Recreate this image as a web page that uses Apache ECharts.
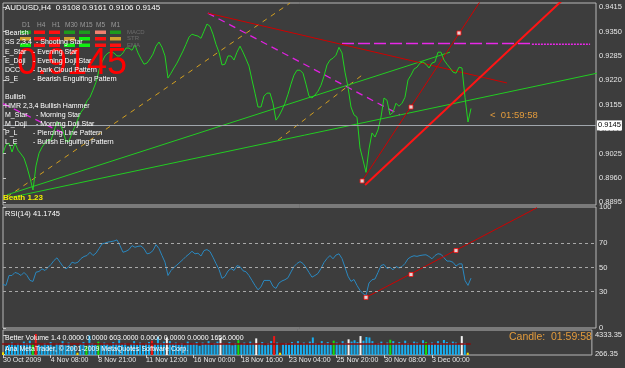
<!DOCTYPE html>
<html>
<head>
<meta charset="utf-8">
<script src="https://cdn.jsdelivr.net/npm/echarts@6/dist/echarts.min.js"></script>
<style>
html, body { margin: 0; padding: 0; background: #3d3d3d; }
#chart { width: 625px; height: 368px; }
</style>
</head>
<body>
<div id="chart"></div>
<script>
// AUDUSD H4 close prices (one per bar)
const closePrices = [
  0.9026,0.9048,0.9053,0.9029,0.9053,0.9034,0.9024,0.9013,0.8989,0.8960,
  0.8928,0.8992,0.9026,0.9042,0.9053,0.9061,0.9061,0.9085,0.9109,0.9104,
  0.9085,0.9058,0.9058,0.9080,0.9098,0.9117,0.9135,0.9146,0.9165,0.9175,
  0.9194,0.9215,0.9247,0.9269,0.9285,0.9293,0.9295,0.9293,0.9285,0.9285,
  0.9293,0.9306,0.9306,0.9300,0.9314,0.9293,0.9277,0.9263,0.9266,0.9277,
  0.9290,0.9311,0.9322,0.9308,0.9285,0.9226,0.9239,0.9253,0.9266,0.9282,
  0.9298,0.9316,0.9335,0.9343,0.9340,0.9338,0.9332,0.9351,0.9370,0.9364,
  0.9343,0.9316,0.9295,0.9261,0.9263,0.9285,0.9285,0.9274,0.9295,0.9311,
  0.9295,0.9277,0.9258,0.9221,0.9186,0.9149,0.9149,0.9178,0.9186,0.9186,
  0.9159,0.9114,0.9125,0.9141,0.9159,0.9183,0.9210,0.9234,0.9247,0.9247,
  0.9239,0.9210,0.9178,0.9173,0.9181,0.9191,0.9207,0.9231,0.9261,0.9274,
  0.9279,0.9287,0.9308,0.9293,0.9242,0.9202,0.9149,0.9128,0.9122,0.9040,
  0.9008,0.8975,0.9037,0.9080,0.9069,0.9088,0.9122,0.9173,0.9167,0.9128,
  0.9135,0.9159,0.9151,0.9159,0.9175,0.9221,0.9234,0.9250,0.9255,0.9266,
  0.9269,0.9263,0.9253,0.9266,0.9269,0.9295,0.9295,0.9274,0.9263,0.9253,
  0.9242,0.9239,0.9255,0.9253,0.9175,0.9109,0.9145
];

// RSI(14)
const rsiValues = [
  36.0,35.2,43.4,43.4,45.9,45.1,43.4,45.9,43.4,39.3,
  38.5,46.1,46.7,48.9,47.5,50.0,52.5,55.8,58.0,54.4,
  50.8,48.9,50.8,54.4,53.5,54.4,57.4,59.1,59.9,62.6,
  59.9,61.9,65.6,69.5,70.1,71.0,71.4,71.9,72.8,68.1,
  62.6,63.4,64.8,68.1,66.7,67.5,67.8,65.6,61.3,61.9,
  64.0,68.9,65.6,59.9,54.4,43.4,47.5,50.0,52.1,54.4,
  56.6,59.1,61.1,63.4,61.3,61.8,59.5,64.0,64.8,63.2,
  58.5,53.3,48.4,41.0,42.6,47.1,49.2,47.5,51.6,50.8,
  47.3,46.5,43.4,39.3,35.2,31.6,34.0,39.3,39.3,39.3,
  34.4,32.7,37.2,38.9,39.9,41.5,46.3,50.8,53.3,54.9,
  53.3,50.0,45.9,42.0,43.4,45.1,49.2,54.1,57.4,59.9,
  57.2,60.3,61.3,57.4,50.2,42.8,38.5,40.1,35.2,31.1,
  28.4,27.0,37.2,39.9,40.5,45.9,51.6,52.5,49.2,50.2,
  48.1,50.8,49.6,50.8,53.3,57.2,58.8,59.7,59.2,59.9,
  60.3,60.5,59.1,57.2,59.9,61.4,60.9,58.1,55.3,55.3,
  54.3,51.2,53.0,53.0,39.3,35.2,41.2
];

// Better Volume: tick volume and bar kind (b=normal, r=climax up, w=churn, g=climax churn, y=low)
const volumes = [
  600,1900,2300,2700,2100,2500,2200,2900,2600,3100,
  2300,4550,2400,2000,2600,2200,2800,1900,2500,2300,
  3000,2100,2700,1800,2200,500,2400,2800,2000,4200,
  2600,2200,2900,2100,2700,2400,2000,2800,2500,3200,
  2300,2600,1900,2400,3000,2200,2700,2100,2500,2800,
  3100,2400,3900,2600,2900,3800,3000,2400,2700,2200,
  2600,2100,2900,2300,2500,2800,2000,2700,2400,3000,
  2200,2600,2900,3700,2500,2300,2800,2100,2600,3200,
  2400,2700,2200,2900,2500,3600,2400,2800,2100,2600,
  3000,4100,2700,500,2300,2600,2200,2800,2500,3000,
  2300,2700,2400,2900,3800,2600,2300,3000,2500,2800,
  2200,3100,2700,2400,3000,2600,3400,2900,3200,2800,
  4100,3100,3900,3800,3000,2400,2600,2900,2300,2700,
  3300,3000,2500,2800,2400,3100,2600,2300,2900,2700,
  2400,3200,2800,2500,2700,2400,3000,2600,3250,2800,
  2500,2900,2700,2300,4100,2600,500
];
const volumeKinds = (
  'ybbbbbbbbb' + 'grbbbbbbbb' + 'bbbbbybbgb' + 'bbgbbbbbbb' + 'bbbbbbbbbb' +
  'rbbbbwbbbb' + 'bbbbbbbbbb' + 'bbbwbbbbbg' + 'bbbbbwbbbb' + 'brbybbbbbb' +
  'bbbbbbbbbb' + 'bgbbbbwbbb' + 'wbbbbbbbbb' + 'gbbbbbbbbb' + 'bbgbbbbbbb' +
  'bbbbwby'
).split('');
const volumeAverage = 2380;

// axis labels
const timeLabels = ['30 Oct 2009', '4 Nov 08:00', '8 Nov 21:00', '11 Nov 12:00', '16 Nov 00:00',
  '18 Nov 16:00', '23 Nov 04:00', '25 Nov 20:00', '30 Nov 08:00', '3 Dec 00:00'];
const labelStep = 16; // bars between time labels
const priceTicks = [0.8895, 0.8960, 0.9025, 0.9090, 0.9155, 0.9220, 0.9285, 0.9350, 0.9415];
const rsiTicks = [0, 30, 50, 70, 100];
const volumeTicks = [266.35, 4333.35];

// drawn objects: [bar index, value]
const goldLineA = [[1.3, 0.8909], [95.7, 0.9426]];
const goldLineB = [[91.7, 0.9061], [119.7, 0.9234]];
const magentaLineLeft = [[0, 0.9158], [20.7, 0.9077]];
const magentaLineMain = [[68.3, 0.9399], [132.3, 0.9128]];
const magentaLevel = [[113, 0.9318], [175.7, 0.9318]];
const magentaLevelEnd = [[176.3, 0.9316], [195.7, 0.9316]];
const redLineFalling = [[68.3, 0.9399], [168, 0.9213]];
const redLineSteep = [[119.7, 0.8952], [162, 0.9466]];
const redLineThick = [[120.7, 0.8941], [190, 0.9460]];
const greenLineUpper = [[1.3, 0.8915], [149, 0.9295]];
const greenLineLower = [[3, 0.8909], [198, 0.9239]];
const priceMarkers = [[119.7, 0.8952], [136, 0.9149], [152, 0.9346]];
const rsiRedLine = [[121, 25.3], [178, 99.4]];
const rsiMarkers = [[121, 25.3], [136, 44.2], [151, 64.0]];

const lastClose = closePrices[closePrices.length - 1];
const volColors = { b: '#18aef0', r: '#f01818', w: '#f4f4f4', g: '#10e010', y: '#f0e000' };
const FONT = 'Liberation Sans';
const AXIS_TEXT = '#e6e6e6';
const X_MAX = 197.67;

function xAxisHidden(idx) {
  return { type: 'value', gridIndex: idx, min: 0, max: X_MAX, show: false };
}
function yAxisRight(idx, min, max, ticks, digits) {
  return {
    type: 'value', gridIndex: idx, position: 'right', min: min, max: max,
    axisLine: { show: false }, splitLine: { show: false },
    axisTick: { show: true, customValues: ticks, length: 3, lineStyle: { color: '#c8c8c8' } },
    axisLabel: {
      customValues: ticks, color: AXIS_TEXT, fontSize: 7.5, fontFamily: FONT, margin: 3,
      formatter: v => v.toFixed(digits)
    }
  };
}
function segment(data, color, width, type, xi, yi) {
  return {
    type: 'line', data: data, xAxisIndex: xi || 0, yAxisIndex: yi || 0,
    showSymbol: false, silent: true, z: 3,
    lineStyle: { color: color, width: width, type: type || 'solid' }
  };
}
// plain text at (x, y) = left edge, vertical middle
function txt(x, y, text, fill, size, z, weight) {
  return { type: 'text', x: x, y: y, z: z == null ? 50 : z, silent: true,
    style: { text: text, fill: fill, fontSize: size, fontFamily: FONT, fontWeight: weight || 'normal',
      align: 'left', verticalAlign: 'middle' } };
}

const tickIdx = timeLabels.map((_, k) => k * labelStep);

// signal table (MACD / STR / EMA per timeframe)
const frames = ['D1', 'H4', 'H1', 'M30', 'M15', 'M5', 'M1'];
const frameX = [22, 37, 52, 65, 80, 96, 111];
const cellX = [20, 34, 49, 64, 79, 95, 110];
const signalRows = [
  ['#1d9a1d', '#ff1010', '#ff1010', '#1d9a1d', '#1d9a1d', '#f08070', '#1d9a1d'],
  ['#d0a030', '#ff1010', '#ff1010', '#d0a030', '#10ee10', '#ff1010', '#d0a030'],
  ['#10ee10', '#ff1010', '#ff1010', '#10ee10', '#10ee10', '#ff1010', '#ff1010']
];
const rowY = [30.5, 37, 43.5];
const rowNames = ['MACD', 'STR', 'EMA'];

const patternRows = [
  ['Bearish', '', 33], ['SS 2,3,4', '- Shooting Star', 42], ['E_Star', '- Evening Star', 52],
  ['E_Doji', '- Evening Doji Star', 61], ['DCC', '- Dark Cloud Pattern', 70],
  ['S_E', '- Bearish Engulfing Pattern', 79], ['Bullish', '', 97],
  ['HMR 2,3,4', '- Bullish Hammer', 106], ['M_Star', '- Morning Star', 115],
  ['M_Doji', '- Morning Doji Star', 124], ['P_L', '- Piercing Line Pattern', 133],
  ['L_E', '- Bullish Engulfing Pattern', 142]
];

const graphics = [];
graphics.push(txt(17, 64, '0.9145', '#ff0000', 36, 45));
graphics.push(txt(5, 8, 'AUDUSD,H4  0.9108 0.9161 0.9106 0.9145', '#ffffff', 8));
frames.forEach((f, k) => graphics.push(txt(frameX[k], 25.5, f, '#9a9a9a', 6.5)));
signalRows.forEach((row, r) => {
  row.forEach((c, k) => graphics.push({ type: 'rect', z: 49, silent: true,
    shape: { x: cellX[k], y: rowY[r], width: 11, height: 3.5 }, style: { fill: c } }));
  graphics.push(txt(127, rowY[r] + 1.8, rowNames[r], '#6c6c6c', 6));
});
patternRows.forEach(p => {
  graphics.push(txt(5, p[2], p[0], '#ffffff', 7));
  if (p[1]) graphics.push(txt(p[0].length > 7 || p[0].indexOf('M_') === 0 ? 36 : 33, p[2], p[1], '#ffffff', 7));
});
graphics.push(txt(3, 198, 'Beath 1.23', '#f0f000', 8, 50, 'bold'));
graphics.push(txt(490, 115, '<  01:59:58', '#e39b3c', 9.5));
graphics.push(txt(5, 214, 'RSI(14) 41.1745', '#ffffff', 7.5));
graphics.push(txt(5, 338, 'Better Volume 1.4 0.0000 0.0000 603.0000 0.0000 0.0000 0.0000 1656.0000', '#ffffff', 7));
graphics.push(txt(5, 349, 'Ana MetaTrader, \u00a9 2001-2009 MetaQuotes Software Corp.', '#ffffff', 7));
graphics.push(txt(509, 337, 'Candle:  01:59:58', '#e39b3c', 10.5));

const chart = echarts.init(document.getElementById('chart'));
const option = {
  animation: false,
  backgroundColor: '#3d3d3d',
  textStyle: { fontFamily: FONT },
  grid: [
    { left: 3, right: 29, top: 3, height: 202, show: true, borderColor: '#b8b8b8', borderWidth: 1 },
    { left: 3, right: 29, top: 207, height: 121, show: true, borderColor: '#b8b8b8', borderWidth: 1 },
    { left: 3, right: 29, top: 330, height: 25, show: true, borderColor: '#b8b8b8', borderWidth: 1 }
  ],
  xAxis: [
    xAxisHidden(0),
    xAxisHidden(1),
    {
      type: 'value', gridIndex: 2, min: 0, max: X_MAX,
      axisLine: { show: false }, splitLine: { show: false },
      axisTick: { show: true, customValues: tickIdx, length: 3, lineStyle: { color: '#c8c8c8' } },
      axisLabel: {
        customValues: tickIdx, align: 'left', color: AXIS_TEXT, fontSize: 7, fontFamily: FONT, margin: 2,
        formatter: v => timeLabels[Math.round(v / labelStep)] || ''
      }
    }
  ],
  yAxis: [
    yAxisRight(0, 0.8888, 0.9426, priceTicks, 4),
    yAxisRight(1, 0, 100, rsiTicks, 0),
    yAxisRight(2, 0, 5417, volumeTicks, 2)
  ],
  series: [
    segment(goldLineA, '#d4a020', 1, [5, 5]),
    segment(goldLineB, '#d4a020', 1, [5, 5]),
    segment(magentaLineLeft, '#e020e0', 1.3, [7, 5]),
    segment(magentaLineMain, '#e020e0', 1.3, [7, 5]),
    segment(magentaLevel, '#e828e8', 1.5, [12, 4]),
    segment(magentaLevelEnd, '#e828e8', 1.5, [2, 1]),
    segment(greenLineUpper, '#22cc22', 1),
    segment(greenLineLower, '#22cc22', 1),
    segment(redLineFalling, '#d00000', 1),
    segment(redLineSteep, '#d00000', 1),
    segment(redLineThick, '#ff1414', 2),
    {
      type: 'line', xAxisIndex: 0, yAxisIndex: 0, z: 4,
      data: closePrices.map((v, i) => [i, v]),
      showSymbol: false, silent: true,
      lineStyle: { color: '#21d421', width: 1 },
      markLine: {
        silent: true, symbol: 'none',
        lineStyle: { color: '#a0a6ac', width: 1, type: 'solid' },
        label: {
          show: true, position: 'end', distance: 1, formatter: lastClose.toFixed(4),
          backgroundColor: '#ffffff', color: '#000000', fontSize: 7.5, fontFamily: FONT, padding: [1, 1]
        },
        data: [{ yAxis: lastClose }]
      }
    },
    {
      type: 'scatter', xAxisIndex: 0, yAxisIndex: 0, z: 5, silent: true,
      data: priceMarkers, symbol: 'rect', symbolSize: 4,
      itemStyle: { color: '#ffffff', borderColor: '#ff1010', borderWidth: 1 }
    },
    {
      type: 'line', xAxisIndex: 1, yAxisIndex: 1, z: 3,
      data: rsiValues.map((v, i) => [i, v]),
      showSymbol: false, silent: true,
      lineStyle: { color: '#2a88c0', width: 1 },
      markLine: {
        silent: true, symbol: 'none', label: { show: false },
        lineStyle: { color: '#a8a8a8', width: 1, type: [3, 3] },
        data: [{ yAxis: 30 }, { yAxis: 50 }, { yAxis: 70 }]
      }
    },
    segment(rsiRedLine, '#d00000', 1, 'solid', 1, 1),
    {
      type: 'scatter', xAxisIndex: 1, yAxisIndex: 1, z: 5, silent: true,
      data: rsiMarkers, symbol: 'rect', symbolSize: 4,
      itemStyle: { color: '#ffffff', borderColor: '#ff1010', borderWidth: 1 }
    },
    {
      type: 'bar', xAxisIndex: 2, yAxisIndex: 2, barWidth: 2, silent: true,
      data: volumes.map((v, i) => ({ value: [i, v], itemStyle: { color: volColors[volumeKinds[i]] } }))
    },
    segment([[-1, volumeAverage], [157, volumeAverage]], '#8a0c0c', 1.5, 'solid', 2, 2)
  ],
  graphic: graphics
};
chart.setOption(option);
</script>
</body>
</html>
